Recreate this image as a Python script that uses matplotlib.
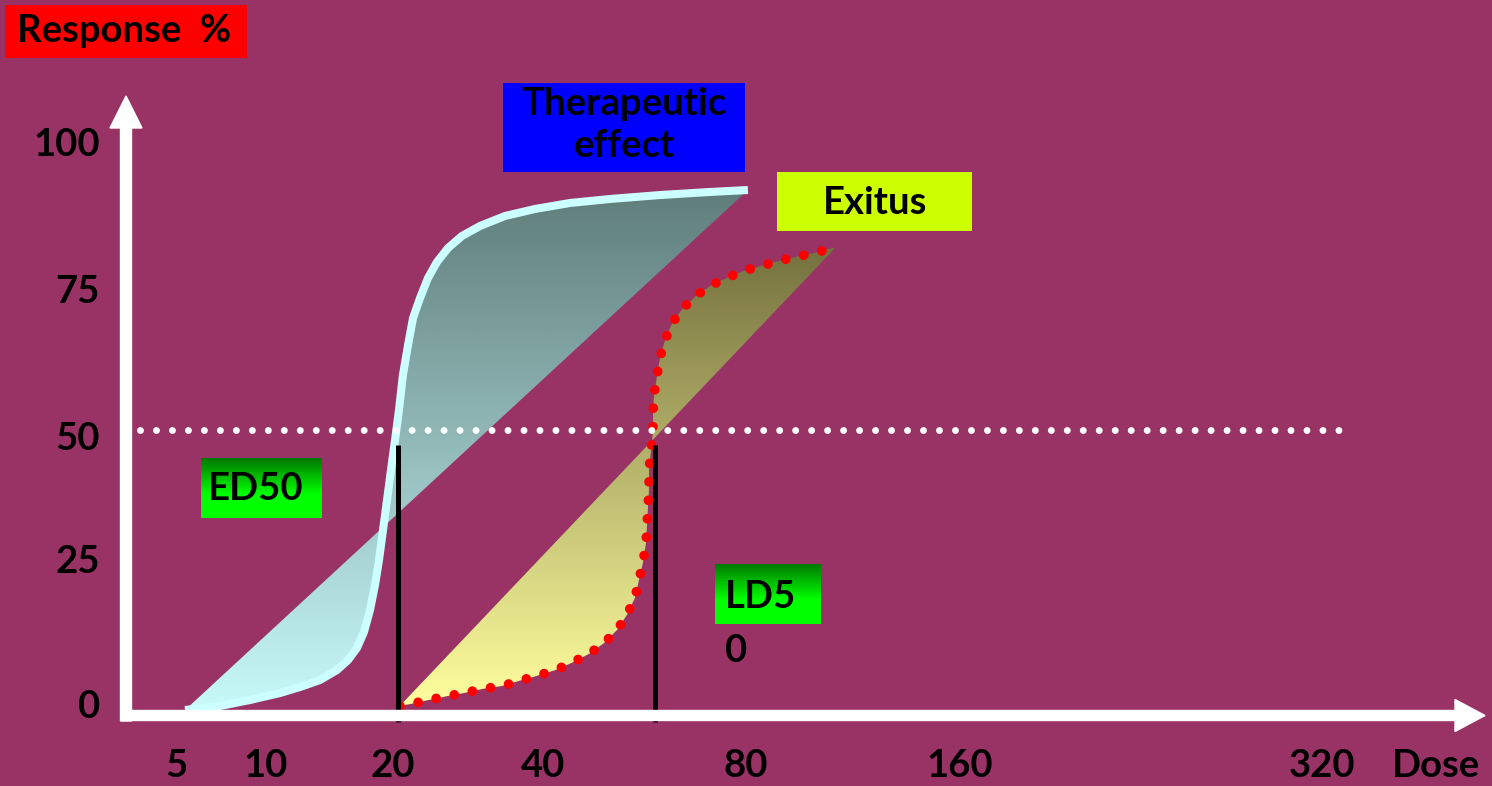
"""Therapeutic window slide: effect and exitus dose-response curves."""

import matplotlib

matplotlib.use("Agg")

import matplotlib.patches as mpatches
import matplotlib.pyplot as plt
import numpy as np
from matplotlib.colors import LinearSegmentedColormap
from matplotlib.transforms import IdentityTransform

W, H = 1492, 786
BG = "#993366"
FS = 27.5

# x axis: dose labels, roughly doubling per step
DOSE_TICKS = [5, 10, 20, 40, 80, 160, 320]
RESP_TICKS = [0, 25, 50, 75, 100]

# therapeutic effect curve (dose, response %)
THERA_DOSE = [5.36, 7.02, 8.84, 10.80, 12.04, 13.43, 14.73, 15.65, 16.43, 17.07, 17.64,
              18.13, 18.53, 18.94, 19.36, 19.78, 20.19, 20.56, 20.94, 21.44, 21.94, 22.66,
              23.51, 24.51, 25.79, 27.51, 29.90, 33.56, 38.55, 43.85, 50.29, 59.65, 70.74,
              80.5]
THERA_RESP = [0.35, 1.06, 2.12, 3.36, 4.42, 5.66, 7.43, 9.20, 11.33, 14.16, 18.05,
              22.48, 26.90, 32.21, 37.52, 42.83, 48.14, 53.45, 59.65, 64.96, 69.73, 73.27,
              76.81, 79.65, 82.12, 84.25, 86.02, 87.79, 89.03, 90.09, 90.80, 91.50, 92.04,
              92.39]

# exitus (lethal) curve (dose, response %)
EXITUS_DOSE = [20.65, 21.64, 23.51, 25.67, 27.90, 30.31, 33.10, 35.80, 38.90, 41.67, 44.13,
               46.82, 49.27, 51.50, 53.28, 54.76, 55.52, 56.28, 56.86, 57.06, 57.25, 57.45,
               57.45, 57.84, 58.24, 58.24, 58.44, 59.04, 59.65, 60.68, 62.15, 64.52, 67.67,
               71.21, 75.47, 80.0, 84.8, 89.9, 95.3, 101.0, 107.1]
EXITUS_RESP = [1.1, 1.4, 2.1, 2.8, 3.4, 4.1, 4.6, 5.5, 6.4, 7.4, 8.7,
               10.3, 12.2, 14.5, 17.2, 20.2, 23.4, 26.5, 29.9, 33.1, 36.3, 39.6,
               43.0, 46.2, 49.6, 52.9, 56.1, 59.5, 62.7, 65.8, 68.8, 71.5, 73.8,
               75.6, 77.0, 78.2, 79.1, 80.0, 80.7, 81.4, 82.3]

ED50 = 20.5
LD50 = 58.6
MARK_RESP = [-1.8, 47.3]
HALF = 50

# slide layout: horizontal pixel of each dose label, vertical pixels of 0 and 100 %
TICK_PX = np.array([176, 266, 393, 543, 746, 960, 1322], float)
RESP_LABEL_PX = [707, 562, 439, 292, 145]
Y0_PX, Y100_PX = 712, 147

_LT = np.log2(DOSE_TICKS)
_S0 = (TICK_PX[1] - TICK_PX[0]) / (_LT[1] - _LT[0])
_S1 = (TICK_PX[-1] - TICK_PX[-2]) / (_LT[-1] - _LT[-2])


def dose_to_px(d):
    lg = np.log2(np.maximum(np.asarray(d, float), 1e-6))
    out = np.interp(lg, _LT, TICK_PX)
    out = np.where(lg < _LT[0], TICK_PX[0] + (lg - _LT[0]) * _S0, out)
    return np.where(lg > _LT[-1], TICK_PX[-1] + (lg - _LT[-1]) * _S1, out)


def px_to_dose(p):
    p = np.asarray(p, float)
    lg = np.interp(p, TICK_PX, _LT)
    lg = np.where(p < TICK_PX[0], _LT[0] + (p - TICK_PX[0]) / _S0, lg)
    lg = np.where(p > TICK_PX[-1], _LT[-1] + (p - TICK_PX[-1]) / _S1, lg)
    return 2.0 ** lg


def gradient_fill(ax, dose, resp, c_bottom, c_top, zorder):
    poly = mpatches.Polygon(np.column_stack([dose, resp]), closed=True,
                            facecolor="none", edgecolor="none")
    ax.add_patch(poly)
    cmap = LinearSegmentedColormap.from_list("grad", [c_bottom, c_top])
    grad = np.linspace(0, 1, 256).reshape(-1, 1)
    im = ax.imshow(grad, cmap=cmap, origin="lower", aspect="auto", interpolation="bilinear",
                   extent=(min(dose) * 0.95, max(dose) * 1.05, min(resp), max(resp)),
                   zorder=zorder)
    im.set_clip_path(poly)


def box(fig, x0, y0, x1, y1, color, grad_top=None):
    bx = fig.add_axes([x0 / W, 1 - y1 / H, (x1 - x0) / W, (y1 - y0) / H])
    bx.set_axis_off()
    if grad_top is None:
        bx.add_patch(mpatches.Rectangle((0, 0), 1, 1, transform=bx.transAxes,
                                        color=color))
    else:
        cmap = LinearSegmentedColormap.from_list(
            "box", [(0.0, color), (0.4, color), (1.0, grad_top)])
        bx.imshow(np.linspace(0, 1, 64).reshape(-1, 1), cmap=cmap, origin="lower",
                  aspect="auto", extent=(0, 1, 0, 1))
        bx.set_xlim(0, 1)
        bx.set_ylim(0, 1)


def label(fig, x, y, s, **kw):
    kw.setdefault("ha", "center")
    kw.setdefault("va", "center")
    fig.text(x / W, 1 - y / H, s, fontsize=FS, fontweight="bold", color="black", **kw)


def main() -> None:
    plt.rcParams["font.family"] = ["Lato", "DejaVu Sans"]
    fig = plt.figure(figsize=(W / 100, H / 100), dpi=100, facecolor=BG)
    ax = fig.add_axes([0, 0, 1, 1])
    ax.set_facecolor(BG)
    ax.set_xscale("function", functions=(dose_to_px, px_to_dose))

    gradient_fill(ax, THERA_DOSE, THERA_RESP, "#c8fafa", "#5f7d7b", 2)
    gradient_fill(ax, EXITUS_DOSE, EXITUS_RESP, "#ffff9e", "#75713f", 2)

    ax.plot(THERA_DOSE, THERA_RESP, color="#ccffff", lw=5.8, solid_joinstyle="round",
            solid_capstyle="butt", zorder=3)
    ax.plot(EXITUS_DOSE, EXITUS_RESP, color="red", lw=7, linestyle=(0, (0.001, 1.9)),
            dash_capstyle="round", zorder=4)

    ax.axhline(HALF, xmin=140 / W, xmax=1345 / W, color="white", lw=5,
               linestyle=(0, (0.001, 2.3)), dash_capstyle="round", zorder=5)
    ax.vlines([ED50, LD50], MARK_RESP[0], MARK_RESP[1], color="black", lw=3.6, zorder=6)

    px_scale = (Y0_PX - Y100_PX) / 100.0
    ax.set_xlim(px_to_dose(0), px_to_dose(W))
    ax.set_ylim(-(H - Y0_PX) / px_scale, Y0_PX / px_scale)
    ax.set_axis_off()

    # axes drawn as arrows, in output pixels
    ident = IdentityTransform()
    fig.add_artist(mpatches.FancyArrow(126, H - 721, 0, 625, width=11, head_width=32,
                                       head_length=32, length_includes_head=True,
                                       color="white", transform=ident, zorder=7))
    fig.add_artist(mpatches.FancyArrow(121, H - 715.5, 1364, 0, width=10, head_width=32,
                                       head_length=30, length_includes_head=True,
                                       color="white", transform=ident, zorder=7))

    lab_y = -(766 - Y0_PX) / px_scale
    for d in DOSE_TICKS:
        ax.text(d, lab_y, str(d), ha="center", va="center", fontsize=FS,
                fontweight="bold", color="black")
    for r, py in zip(RESP_TICKS, RESP_LABEL_PX):
        label(fig, 100, py, str(r), ha="right")
    label(fig, 1436, 766, "Dose")

    box(fig, 5, 5, 247, 58, "red")
    label(fig, 124, 31, "Response  %")
    box(fig, 503, 83, 745, 172, "blue")
    label(fig, 624, 125, "Therapeutic\neffect", linespacing=1.28)
    box(fig, 777, 172, 972, 231, "#ccff00")
    label(fig, 875, 203, "Exitus")
    box(fig, 201, 458, 322, 518, "#00ff00", grad_top="#007800")
    label(fig, 256, 489, "ED50")
    box(fig, 715, 564, 821, 624, "#00ff00", grad_top="#007800")
    label(fig, 725, 580, "LD5\n0", ha="left", va="top", linespacing=1.7)

    fig.savefig("out.png", dpi=100, facecolor=BG)


if __name__ == "__main__":
    main()
